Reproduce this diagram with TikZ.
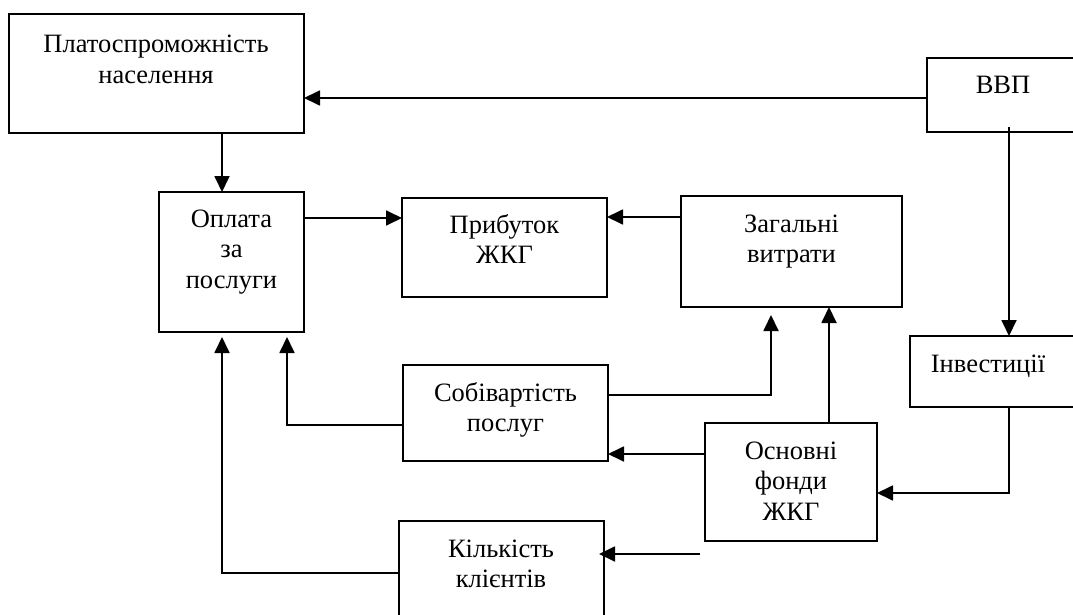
\documentclass[tikz,border=0pt]{standalone}
\usepackage{fontspec}
\setmainfont{Liberation Serif}
\usetikzlibrary{arrows.meta}
\tikzset{
  box/.style={draw, line width=2pt, inner sep=0pt, outer sep=0pt, anchor=north west},
  lbl/.style={font=\fontsize{26.5}{30.5}\selectfont, align=center, anchor=base, inner sep=0pt},
  conn/.style={line width=1.8pt},
  arr/.style={conn, -{Triangle[length=16pt,width=15pt]}}
}
\begin{document}
\begin{tikzpicture}[x=1pt,y=-1pt]
\useasboundingbox (0,0) rectangle (1073,615);
\clip (0,0) rectangle (1073,615);
% boxes
\node[box, minimum width=295pt, minimum height=119pt] (plat) at (9,14) {};
\node[box, minimum width=200pt, minimum height=74pt] (vvp) at (927,58) {};
\node[box, minimum width=145pt, minimum height=140pt] (opl) at (159,192) {};
\node[box, minimum width=205pt, minimum height=99pt] (prib) at (402,198) {};
\node[box, minimum width=221pt, minimum height=111pt] (zag) at (681,196) {};
\node[box, minimum width=200pt, minimum height=71pt] (inv) at (910,336) {};
\node[box, minimum width=205pt, minimum height=96pt] (sob) at (403,365) {};
\node[box, minimum width=172pt, minimum height=118pt] (osn) at (705,423) {};
\node[box, minimum width=205pt, minimum height=120pt] (kil) at (399,521) {};
% labels (anchor = baseline of the last line)
\node[lbl] (platT) at ([xshift=147pt,yshift=-69.5pt]plat.north west) {Платоспроможність\\населення};
\node[lbl] (vvpT) at ([xshift=76pt,yshift=-36pt]vvp.north west) {ВВП};
\node[lbl] (oplT) at ([xshift=72.5pt,yshift=-96pt]opl.north west) {Оплата\\за\\послуги};
\node[lbl] (pribT) at ([xshift=102.5pt,yshift=-65.5pt]prib.north west) {Прибуток\\ЖКГ};
\node[lbl] (zagT) at ([xshift=110.5pt,yshift=-66.5pt]zag.north west) {Загальні\\витрати};
\node[lbl] (invT) at ([xshift=78pt,yshift=-36pt]inv.north west) {Інвестиції};
\node[lbl] (sobT) at ([xshift=102.5pt,yshift=-66.5pt]sob.north west) {Собівартість\\послуг};
\node[lbl] (osnT) at ([xshift=86pt,yshift=-97pt]osn.north west) {Основні\\фонди\\ЖКГ};
\node[lbl] (kilT) at ([xshift=102pt,yshift=-66.5pt]kil.north west) {Кількість\\клієнтів};
% connectors
\draw[arr] ([yshift=-40pt]vvp.north west) -- ([yshift=-40pt]vvp.north west -| plat.east);
\draw[arr] ([xshift=213pt]plat.south west) -- ([xshift=63pt]opl.north west);
\draw[arr] ([yshift=-26pt]opl.north east) -- ([yshift=-26pt]opl.north east -| prib.west);
\draw[arr] ([yshift=-21pt]zag.north west) -- ([yshift=-21pt]zag.north west -| prib.east);
\draw[arr] ([xshift=82pt,yshift=5pt]vvp.south west) -- ([xshift=99pt]inv.north west);
\draw[arr] ([xshift=99pt]inv.south west) |- ([yshift=-70pt]osn.north east);
\draw[arr] ([xshift=124pt]osn.north west) -- ([xshift=124pt]osn.north west |- zag.south);
\draw[arr] ([yshift=-30pt]sob.north east) -| ([xshift=90pt,yshift=-8pt]zag.south west);
\draw[arr] ([yshift=-31pt]osn.north west) -- ([yshift=-31pt]osn.north west -| sob.east);
\draw[arr] ([xshift=-5pt,yshift=-131pt]osn.north west) -- ([xshift=-5pt,yshift=-131pt]osn.north west -| kil.east);
\draw[arr] ([yshift=-60pt]sob.north west) -| ([xshift=128pt,yshift=-5pt]opl.south west);
\draw[arr] ([yshift=-52pt]kil.north west) -| ([xshift=63pt,yshift=-5pt]opl.south west);
\end{tikzpicture}
\end{document}
